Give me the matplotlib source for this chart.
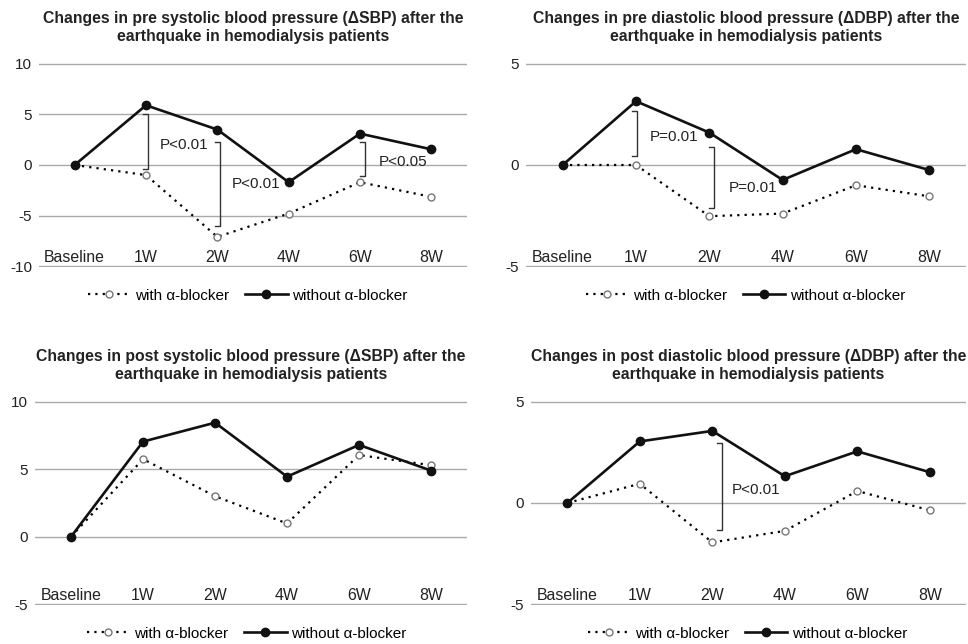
import matplotlib
matplotlib.use("Agg")
import matplotlib.pyplot as plt

plt.rcParams['font.family'] = ['Liberation Sans', 'DejaVu Sans']
plt.rcParams['axes.unicode_minus'] = False

weeks = ["Baseline", "1W", "2W", "4W", "6W", "8W"]

# pre SBP
pre_sbp_with = [0, -1.0, -7.1, -4.8, -1.7, -3.15]
pre_sbp_without = [0, 5.9, 3.5, -1.7, 3.1, 1.55]
# pre DBP
pre_dbp_with = [0, 0.0, -2.53, -2.4, -1.0, -1.55]
pre_dbp_without = [0, 3.15, 1.6, -0.74, 0.78, -0.25]
# post SBP
post_sbp_with = [0, 5.75, 3.0, 0.98, 6.05, 5.3]
post_sbp_without = [0, 7.05, 8.45, 4.45, 6.8, 4.9]
# post DBP
post_dbp_with = [0, 0.95, -1.95, -1.38, 0.59, -0.36]
post_dbp_without = [0, 3.04, 3.56, 1.32, 2.55, 1.52]

titles = [
    "Changes in pre systolic blood pressure (\u0394SBP) after the\nearthquake in hemodialysis patients",
    "Changes in pre diastolic blood pressure (\u0394DBP) after the\nearthquake in hemodialysis patients",
    "Changes in post systolic blood pressure (\u0394SBP) after the\nearthquake in hemodialysis patients",
    "Changes in post diastolic blood pressure (\u0394DBP) after the\nearthquake in hemodialysis patients",
]

# significance brackets: (x, y_top, y_bottom) and labels (x, y, text)
brackets = [
    [(1.03, 5.0, -0.4), (2.04, 2.25, -6.0), (4.07, 2.25, -1.1)],
    [(1.01, 2.66, 0.44), (2.06, 0.9, -2.12)],
    [],
    [(2.14, 2.96, -1.32)],
]
p_labels = [
    [(1.54, 1.96, "P<0.01"), (2.54, -1.86, "P<0.01"), (4.61, 0.3, "P<0.05")],
    [(1.525, 1.39, "P=0.01"), (2.60, -1.14, "P=0.01")],
    [],
    [(2.60, 0.64, "P<0.01")],
]

series = [
    (pre_sbp_with, pre_sbp_without, (-10, 10), [-10, -5, 0, 5, 10]),
    (pre_dbp_with, pre_dbp_without, (-5, 5), [-5, 0, 5]),
    (post_sbp_with, post_sbp_without, (-5, 10), [-5, 0, 5, 10]),
    (post_dbp_with, post_dbp_without, (-5, 5), [-5, 0, 5]),
]

positions = [
    [0.0403, 0.5854, 0.4421, 0.3168],
    [0.5434, 0.5854, 0.4545, 0.3168],
    [0.0362, 0.0606, 0.4463, 0.3168],
    [0.5486, 0.0606, 0.4494, 0.3168],
]
legend_x = [0.488, 0.499, 0.49, 0.498]

fig = plt.figure(figsize=(9.68, 6.44), dpi=100)

for i in range(4):
    w_vals, wo_vals, ylim, yticks = series[i]
    ax = fig.add_axes(positions[i])
    x = list(range(len(weeks)))

    ax.plot(x, w_vals, color="black", linestyle=(0, (1, 2.3)), lw=1.6,
            marker="o", markersize=5, markerfacecolor="white",
            markeredgecolor="#777777", markeredgewidth=1.0,
            label="with \u03b1-blocker", zorder=3)
    ax.plot(x, wo_vals, color="#111111", lw=1.9, marker="o", markersize=6,
            markerfacecolor="#111111", markeredgecolor="#111111",
            label="without \u03b1-blocker", zorder=4)

    for bx, y1, y2 in brackets[i]:
        ax.plot([bx - 0.07, bx, bx, bx - 0.07], [y1, y1, y2, y2],
                color="#333333", lw=1.0, zorder=2)
    for lx, ly, txt in p_labels[i]:
        ax.text(lx, ly, txt, ha="center", va="center", fontsize=11,
                color="#222222", zorder=5)

    ax.set_xlim(-0.5, len(weeks) - 0.5)
    pad = (ylim[1] - ylim[0]) * 0.004
    ax.set_ylim(ylim[0] - pad, ylim[1] + pad)
    ax.set_yticks(yticks)
    ax.set_xticks(x)
    ax.set_xticklabels(weeks)
    ax.yaxis.grid(True, color="#aaaaaa", lw=1.0)
    ax.set_axisbelow(True)
    for s in ax.spines.values():
        s.set_visible(False)
    ax.tick_params(axis="x", length=0, pad=-12.5, labelsize=11.4, labelcolor="#222222")
    ax.tick_params(axis="y", length=0, pad=5, labelsize=11, labelcolor="#222222")

    ax.set_title(titles[i], fontsize=11.3, fontweight="bold", color="#222222",
                 pad=15.5, linespacing=1.3)

    ax.legend(loc="center", bbox_to_anchor=(legend_x[i], -0.14), ncol=2,
              frameon=False, fontsize=11, handlelength=2.8, handletextpad=0.3,
              columnspacing=1.0)

fig.savefig("out.png", dpi=100)
